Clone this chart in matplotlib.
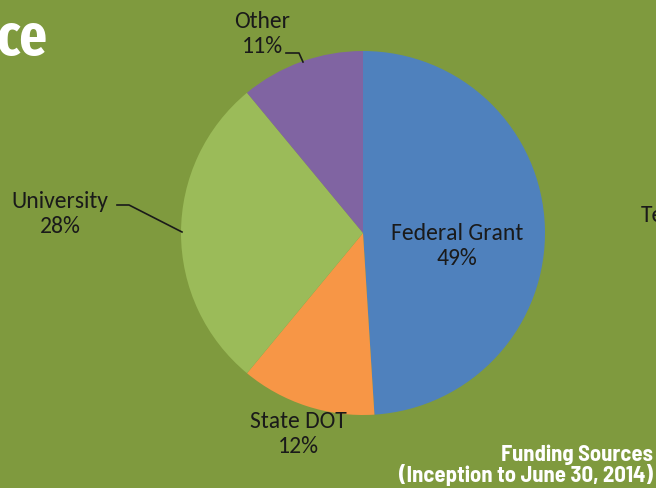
import matplotlib
matplotlib.use('Agg')
import matplotlib.pyplot as plt

# funding shares, clockwise from 12 o'clock
sources = ['Federal Grant', 'State DOT', 'University', 'Other']
shares = [49, 12, 28, 11]
colors = ['#4f81bd', '#f79646', '#9bbb59', '#8064a2']
bg = '#7f9a3e'

W, H = 656, 488
fig = plt.figure(figsize=(W / 100, H / 100), dpi=100, facecolor=bg)
ax = fig.add_axes([0, 0, 1, 1])

# pie in pixel space (y up)
cx, cy, r = 363, H - 233, 182
ax.pie(shares, colors=colors, startangle=90, counterclock=False,
       center=(cx, cy), radius=r, frame=True,
       wedgeprops=dict(linewidth=0))
ax.set_xlim(0, W)
ax.set_ylim(0, H)
ax.set_aspect('equal')
ax.axis('off')

lab_font = dict(family=['Carlito', 'DejaVu Sans'], fontsize=17, color='#1a1a1a',
                ha='center', va='center', linespacing=1.2)

def lab(i, x, y):
    ax.text(x, H - y, '%s\n%d%%' % (sources[i], shares[i]), **lab_font)

lab(0, 457, 246)
lab(1, 298, 434)
lab(2, 60, 214)
lab(3, 262, 34)

# leader lines
ax.plot([286, 299, 303], [H - 53, H - 53, H - 62], color='#1a1a1a', lw=1.2)
ax.plot([117, 129, 182], [H - 205, H - 205, H - 232], color='#1a1a1a', lw=1.2)

# leftover page text
ax.text(47, H - 55, 'ce', family=['Fira Sans Extra Condensed', 'DejaVu Sans'],
        fontweight='bold', fontsize=42, color='white', ha='right', va='baseline')
ax.text(641, H - 215, 'Te', family=['Carlito', 'DejaVu Sans'], fontsize=17,
        color='#1a1a1a', ha='left', va='center')
ax.text(653, H - 465, 'Funding Sources\n(Inception to June 30, 2014)',
        family=['Barlow Semi Condensed', 'DejaVu Sans'], fontweight='bold',
        fontsize=16.3, color='white', ha='right', va='center',
        multialignment='right', linespacing=0.95)

fig.savefig('out.png', dpi=100, facecolor=bg)
